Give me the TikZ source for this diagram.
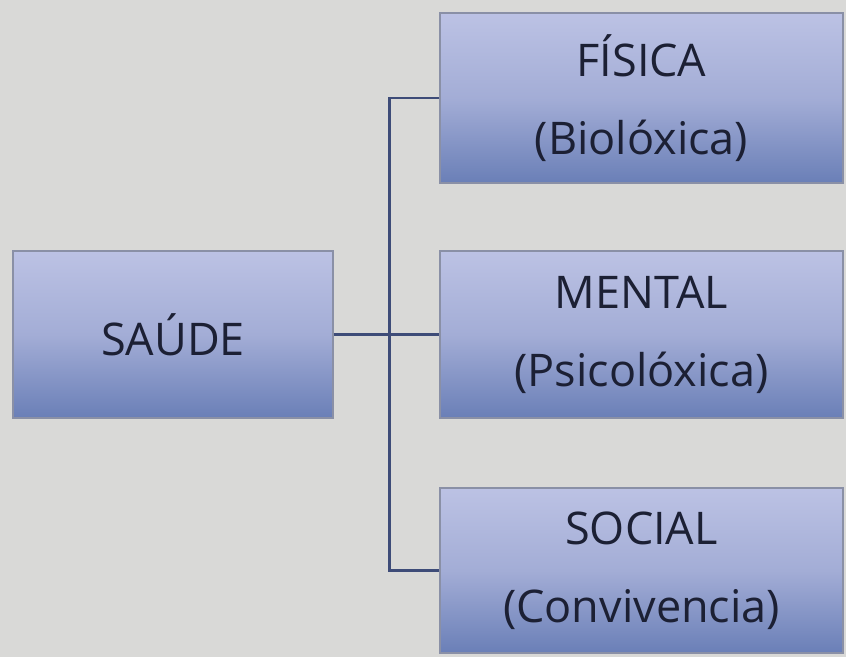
\documentclass[tikz,border=0pt]{standalone}
\usepackage{fontspec}
\setmainfont{Open Sans}
\definecolor{bgc}{HTML}{D9D9D7}
\definecolor{boxtop}{HTML}{BCC2E4}
\definecolor{boxmid}{HTML}{A3ADD6}
\definecolor{boxbot}{HTML}{6A7FB7}
\definecolor{boxedge}{HTML}{8A90A6}
\definecolor{linec}{HTML}{3E4C78}
\definecolor{txt}{HTML}{1C2034}
\tikzset{
  gbox/.style={draw=boxedge, line width=1.2pt, top color=boxtop, bottom color=boxbot, middle color=boxmid,
    inner sep=0pt, align=center, text=txt, font=\fontsize{45}{78}\selectfont},
  conn/.style={draw=linec, line width=2.6pt}
}
\begin{document}
\begin{tikzpicture}[x=1pt,y=-1pt]
\fill[bgc] (0,0) rectangle (846,657);
\useasboundingbox (0,0) rectangle (846,657);
\node[gbox, minimum width=320pt, minimum height=167pt] (s) at (173,334.5) {SAÚDE};
\node[gbox, minimum width=403pt, minimum height=170pt] (f) at (641.5,98) {FÍSICA\\(Biolóxica)};
\node[gbox, minimum width=403pt, minimum height=167pt] (m) at (641.5,334.5) {MENTAL\\(Psicolóxica)};
\node[gbox, minimum width=403pt, minimum height=165pt] (c) at (641.5,570.5) {SOCIAL\\(Convivencia)};
\draw[conn] (s.east) -- (m.west);
\draw[conn] (f.west) -- ++(-50,0) |- (c.west);
\end{tikzpicture}
\end{document}
